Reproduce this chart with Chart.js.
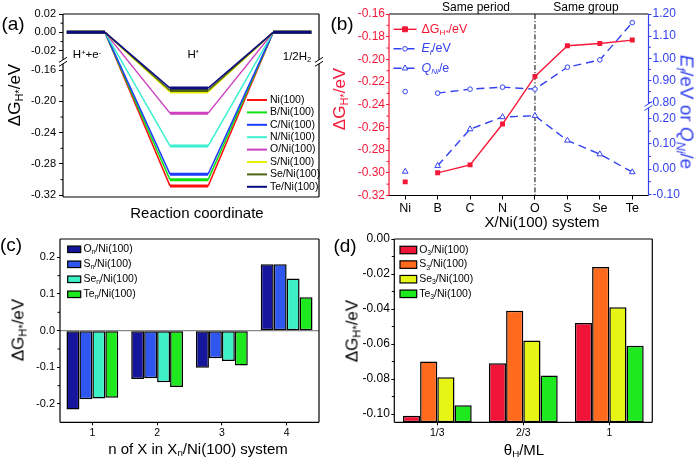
<!DOCTYPE html>
<html><head><meta charset="utf-8">
<script src="https://cdn.jsdelivr.net/npm/chart.js@4/dist/chart.umd.min.js"></script>
<style>
html,body{margin:0;padding:0;background:#fff;}
#fig{position:relative;width:697px;height:461px;overflow:hidden;font-family:'Liberation Sans',Arial,sans-serif;color:#000;}
canvas{position:absolute;}
.t{position:absolute;white-space:nowrap;line-height:1;transform:translate(-50%,-50%);z-index:5;}
.rl{transform:translate(-50%,-50%) rotate(-90deg);}
.rr{transform:translate(-50%,-50%) rotate(90deg);}
.t sub{font-size:65%;vertical-align:-0.3em;line-height:0;}
.t sup{font-size:65%;vertical-align:0.5em;line-height:0;}
</style></head>
<body><div id="fig">
<canvas id="ca" width="340" height="225" style="left:0;top:0"></canvas>
<canvas id="cb" width="357" height="225" style="left:340px;top:0"></canvas>
<canvas id="cc" width="340" height="236" style="left:0;top:225px"></canvas>
<canvas id="cd" width="357" height="236" style="left:340px;top:225px"></canvas>

<div class="t" style="left:13px;top:23px;font-size:19px">(a)</div>
<div class="t" style="left:342px;top:23px;font-size:19px">(b)</div>
<div class="t" style="left:11px;top:244px;font-size:19px">(c)</div>
<div class="t" style="left:345px;top:245px;font-size:19px">(d)</div>

<div class="t rl" style="left:14px;top:95px;font-size:17px">ΔG<sub>H*</sub>/eV</div>
<div class="t" style="left:197px;top:212px;font-size:15px">Reaction coordinate</div>
<div class="t" style="left:87px;top:55px;font-size:11.5px">H<sup>+</sup>+e<sup>-</sup></div>
<div class="t" style="left:193px;top:55px;font-size:11.5px">H<sup>*</sup></div>
<div class="t" style="left:297px;top:57px;font-size:11.5px">1/2H<sub>2</sub></div>

<div class="t rl" style="left:339px;top:99px;font-size:17px;color:#f41838">ΔG<sub>H*</sub>/eV</div>
<div class="t rr" style="left:687px;top:112px;font-size:19px;color:#3342ee"><i>E</i><sub><i>f</i></sub>/eV or <i>Q</i><sub><i>Ni</i></sub>/e</div>
<div class="t" style="left:542px;top:221px;font-size:15px">X/Ni(100) system</div>
<div class="t" style="left:476px;top:7px;font-size:12px">Same period</div>
<div class="t" style="left:586px;top:7px;font-size:12px">Same group</div>

<div class="t rl" style="left:18px;top:330px;font-size:17px">ΔG<sub>H*</sub>/eV</div>
<div class="t" style="left:198px;top:448px;font-size:15px">n of X in X<sub>n</sub>/Ni(100) system</div>
<div class="t rl" style="left:352px;top:331px;font-size:17px">ΔG<sub>H*</sub>/eV</div>
<div class="t" style="left:524px;top:449px;font-size:15px">θ<sub>H</sub>/ML</div>
</div>
<script>
// ================= DATA =================
// (a) free-energy diagram
const aSystems = ['Ni(100)','B/Ni(100)','C/Ni(100)','N/Ni(100)','O/Ni(100)','S/Ni(100)','Se/Ni(100)','Te/Ni(100)'];
const aDeltaGH = [-0.308,-0.300,-0.293,-0.257,-0.215,-0.188,-0.186,-0.183];
const aStateCoord = [0.1,1.1,2.8,3.8,5.5,6.5];   // reaction coordinate: start/end of H+ + e-, H*, 1/2H2
const aTickVals = [0.02,0,-0.02,-0.16,-0.20,-0.24,-0.28,-0.32];
const aTickLabels = ['0.02','0.00','-0.02','-0.16','-0.20','-0.24','-0.28','-0.32'];
const aMinorVals = [0.01,-0.01,-0.18,-0.22,-0.26,-0.30];

// (b) X/Ni(100) systems
const bElements = ['Ni','B','C','N','O','S','Se','Te'];
const bDeltaGH = [-0.308,-0.300,-0.293,-0.257,-0.215,-0.188,-0.186,-0.183];
const bEf = [0.850,0.843,0.861,0.870,0.861,0.960,0.993,1.161];
const bQNi = [-0.010,0.013,0.158,0.206,0.211,0.113,0.059,-0.012];
const bLeftTickVals = [-0.16,-0.18,-0.20,-0.22,-0.24,-0.26,-0.28,-0.30,-0.32];
const bLeftTickLabels = ['-0.16','-0.18','-0.20','-0.22','-0.24','-0.26','-0.28','-0.30','-0.32'];
const bRightTickVals = [1.20,1.10,1.00,0.90,0.80,0.20,0.10,0.00,-0.10];
const bRightTickLabels = ['1.20','1.10','1.00','0.90','0.80','0.20','0.10','0.00','-0.10'];
const bRightMinor = [1.15,1.05,0.95,0.85,0.15,0.05,-0.05];
const bLeftMinor = [-0.17,-0.19,-0.21,-0.23,-0.25,-0.27,-0.29,-0.31];

// (c) Xn/Ni(100)
const cN = ['1','2','3','4'];
const cO = [-0.215,-0.132,-0.101,0.181];
const cS = [-0.187,-0.130,-0.075,0.181];
const cSe = [-0.185,-0.141,-0.083,0.142];
const cTe = [-0.183,-0.154,-0.095,0.091];
const cTickVals = [0.2,0.1,0,-0.1,-0.2];
const cTickLabels = ['0.2','0.1','0.0','-0.1','-0.2'];
const cMinor = [0.15,0.05,-0.05,-0.15];

// (d) X3/Ni(100) vs H coverage
const dTheta = ['1/3','2/3','1'];
const dO = [-0.101,-0.071,-0.048];
const dS = [-0.070,-0.041,-0.016];
const dSe = [-0.079,-0.058,-0.039];
const dTe = [-0.095,-0.078,-0.061];
const dTickVals = [0,-0.02,-0.04,-0.06,-0.08,-0.10];
const dTickLabels = ['0.00','-0.02','-0.04','-0.06','-0.08','-0.10'];
const dMinor = [-0.01,-0.03,-0.05,-0.07,-0.09];

// ================= STYLE =================
const FONT = "'Liberation Sans', Arial, sans-serif";
Chart.defaults.font.family = FONT;
Chart.defaults.color = '#000';
const RED = '#f41838', BLUE = '#3342ee';
const aColors = ['#ff1010','#10e010','#1c3cff','#3cf0d0','#cc40c0','#e8f000','#4f6410','#0c0c80'];
const cColors = ['#16169c','#2f56ef','#3ef0c6','#1ee81e'];
const dColors = ['#f01438','#ff6a1c','#e6f514','#1ee81e'];

// broken-axis mappings
function aMap(v){ return v > -0.1 ? -0.147 + (v + 0.03) * 1.174 : v; }
function bMapE(e){ return 0.6138 - (1.2 - e) * 0.8775; }
function bMapR(v){ return v >= 0.5 ? bMapE(v) : v; }

// ================= PLUGINS =================
function drawRich(ctx, markup, x, y, size, color){
  const toks = markup.split(/([_^ij]\{[^}]*\})/).filter(s => s.length);
  ctx.fillStyle = color; ctx.textBaseline = 'middle'; ctx.textAlign = 'left';
  for (const p of toks){
    let t = p, s = size, dy = 0, st = '';
    const m = p.match(/^([_^ij])\{([^}]*)\}$/);
    if (m){
      t = m[2];
      if (m[1] === '_'){ s = size*0.65; dy = size*0.3; }
      else if (m[1] === '^'){ s = size*0.65; dy = -size*0.35; }
      else if (m[1] === 'i'){ st = 'italic '; }
      else if (m[1] === 'j'){ st = 'italic '; s = size*0.65; dy = size*0.3; }
    }
    ctx.font = st + s + 'px ' + FONT;
    ctx.fillText(t, x, y + dy);
    x += ctx.measureText(t).width;
  }
}
const frame = {
  id:'frame',
  afterDraw(chart, args, o){
    const ctx = chart.ctx, {left,right,top,bottom} = chart.chartArea;
    ctx.save(); ctx.lineWidth = 1.2; ctx.setLineDash([]);
    const seg = (c,x1,y1,x2,y2) => { ctx.strokeStyle = c; ctx.beginPath(); ctx.moveTo(x1,y1); ctx.lineTo(x2,y2); ctx.stroke(); };
    seg(o.top||'#000', left, top, right, top);
    seg(o.bottom||'#000', left, bottom, right, bottom);
    seg(o.left||'#000', left, top, left, bottom);
    seg(o.right||'#000', right, top, right, bottom);
    (o.breaks||[]).forEach(b => {
      const y = chart.scales[b.scale].getPixelForValue(b.value);
      const x = b.side === 'right' ? right : left;
      ctx.fillStyle = '#fff'; ctx.fillRect(x-2, y-2, 4, 4);
      ctx.strokeStyle = b.color||'#000'; ctx.lineWidth = 1;
      [-2, 2].forEach(off => { ctx.beginPath(); ctx.moveTo(x-4, y+off+2.5); ctx.lineTo(x+4, y+off-2.5); ctx.stroke(); });
    });
    ctx.restore();
  }
};
const minorTicks = {
  id:'minorTicks',
  afterDraw(chart, args, o){
    const ctx = chart.ctx, ca = chart.chartArea;
    ctx.save(); ctx.lineWidth = 1;
    (o.sets||[]).forEach(s => {
      const sc = chart.scales[s.scale];
      const x = s.side === 'right' ? ca.right : ca.left, dir = s.side === 'right' ? 1 : -1;
      ctx.strokeStyle = s.color||'#000';
      s.values.forEach(v => { const y = sc.getPixelForValue(v); ctx.beginPath(); ctx.moveTo(x, y); ctx.lineTo(x + dir*2.5, y); ctx.stroke(); });
    });
    ctx.restore();
  }
};
const refLines = {
  id:'refLines',
  beforeDatasetsDraw(chart, args, o){
    const ctx = chart.ctx, ca = chart.chartArea;
    ctx.save();
    if (o.zeroY){ const y = chart.scales.y.getPixelForValue(0); ctx.strokeStyle = '#8a8a8a'; ctx.lineWidth = 1.4; ctx.beginPath(); ctx.moveTo(ca.left, y); ctx.lineTo(ca.right, y); ctx.stroke(); }
    if (o.vIndex !== undefined){ const x = chart.scales.x.getPixelForValue(o.vIndex); ctx.strokeStyle = '#000'; ctx.lineWidth = 1; ctx.setLineDash([5,2,1.2,2]); ctx.beginPath(); ctx.moveTo(x, ca.top); ctx.lineTo(x, ca.bottom); ctx.stroke(); }
    ctx.restore();
  }
};
const boxLegend = {
  id:'boxLegend',
  afterDraw(chart, args, o){
    if (!o || !o.items) return;
    const ctx = chart.ctx, ca = chart.chartArea;
    ctx.save();
    o.items.forEach((txt, i) => {
      const ds = chart.data.datasets[i];
      const x = ca.left + o.dx, y = ca.top + o.dy + i*o.rowH;
      if (o.kind === 'box'){
        ctx.fillStyle = ds.backgroundColor; ctx.fillRect(x, y - o.h/2, o.w, o.h);
        ctx.strokeStyle = '#000'; ctx.lineWidth = 1.2; ctx.strokeRect(x, y - o.h/2, o.w, o.h);
      } else {
        ctx.strokeStyle = ds.borderColor; ctx.lineWidth = o.lineW || 2;
        ctx.setLineDash(ds.borderDash || []);
        ctx.beginPath(); ctx.moveTo(x, y); ctx.lineTo(x + o.w, y); ctx.stroke(); ctx.setLineDash([]);
        if (o.markers){
          ctx.fillStyle = ds.pointBackgroundColor || ds.backgroundColor || ds.borderColor;
          ctx.strokeStyle = ds.borderColor; ctx.lineWidth = 1;
          Chart.helpers.drawPoint(ctx, {pointStyle: ds.pointStyle, radius: ds.pointRadius, borderWidth: 1, rotation: 0}, x + o.w/2, y);
        }
      }
      drawRich(ctx, txt, x + o.w + o.gap, y, o.size, o.colorFromData ? ds.borderColor : '#000');
    });
    ctx.restore();
  }
};
const PLUGS = [refLines, frame, minorTicks, boxLegend];
const base = {responsive:false, animation:false, events:[], maintainAspectRatio:false};

// ================= (a) =================
new Chart('ca', {
  type:'line',
  data:{ datasets: aSystems.map((name, i) => ({
    label: name,
    data: aStateCoord.map((x, k) => ({x, y: aMap([0, aDeltaGH[i], 0][Math.floor(k/2)])})),
    borderColor: aColors[i], backgroundColor: aColors[i], borderWidth: 1.5, pointRadius: 0, tension: 0,
    order: aSystems.length - i,
    segment:{ borderWidth: c => c.p0DataIndex % 2 === 0 ? 3 : 1.5 }
  }))},
  plugins: PLUGS,
  options:{ ...base,
    layout:{padding:{top:14, right:21, left:0, bottom:0}},
    plugins:{ legend:{display:false}, tooltip:{enabled:false},
      frame:{breaks:[{scale:'y', value:-0.1494, side:'left'},{scale:'y', value:-0.1494, side:'right'}]},
      minorTicks:{sets:[{scale:'y', side:'left', values:aMinorVals.map(aMap)}]},
      boxLegend:{kind:'line', items:aSystems, dx:184, dy:86, rowH:12.4, w:20, gap:3, size:10.5, lineW:2}
    },
    scales:{
      x:{type:'linear', min:0, max:6.7, ticks:{display:false}, grid:{display:false}, border:{display:false}, afterFit:s => { s.height = 28; }},
      y:{type:'linear', min:-0.3222, max:aMap(0.02),
        afterBuildTicks:s => { s.ticks = aTickVals.map(v => ({value:aMap(v)})); },
        ticks:{callback:(v, i) => aTickLabels[i], font:{size:11}, color:'#000', padding:3},
        grid:{drawOnChartArea:false, tickLength:4, color:'#000'}, border:{display:false},
        afterFit:s => { s.width = 63; }}
    }
  }
});

// ================= (b) =================
const hideFirst = c => c.p0DataIndex === 0 ? 'rgba(0,0,0,0)' : undefined;
new Chart('cb', {
  type:'line',
  data:{ labels:bElements, datasets:[
    {label:'ΔGH*/eV', data:bDeltaGH, yAxisID:'y', borderColor:RED, backgroundColor:RED, borderWidth:1.4,
     pointStyle:'rect', pointRadius:3.5, pointBorderWidth:0, segment:{borderColor:hideFirst}},
    {label:'Ef/eV', data:bEf.map(bMapE), yAxisID:'y2', borderColor:BLUE, backgroundColor:'#fff', pointBackgroundColor:'#fff',
     borderWidth:1.4, borderDash:[8,5], pointStyle:'circle', pointRadius:2.3, pointBorderWidth:1, segment:{borderColor:hideFirst}},
    {label:'QNi/e', data:bQNi, yAxisID:'y2', borderColor:BLUE, backgroundColor:'#fff', pointBackgroundColor:'#fff',
     borderWidth:1.4, borderDash:[8,5], pointStyle:'triangle', pointRadius:3.3, pointBorderWidth:1, segment:{borderColor:hideFirst}}
  ]},
  plugins: PLUGS,
  options:{ ...base,
    layout:{padding:{top:14, right:0, left:0, bottom:0}},
    plugins:{ legend:{display:false}, tooltip:{enabled:false},
      refLines:{vIndex: bElements.indexOf('O')},
      frame:{left:RED, right:BLUE, breaks:[{scale:'y2', value:0.2502, side:'right', color:BLUE}]},
      minorTicks:{sets:[{scale:'y', side:'left', values:bLeftMinor, color:RED},{scale:'y2', side:'right', values:bRightMinor.map(bMapR), color:BLUE}]},
      boxLegend:{kind:'line', markers:true, colorFromData:true, items:['ΔG_{H*}/eV','i{E}j{f}/eV','i{Q}j{Ni}/e'], dx:4.5, dy:15.3, rowH:19.5, w:23, gap:5, size:12.5, lineW:1.4}
    },
    scales:{
      x:{type:'category', offset:true, grid:{display:true, drawOnChartArea:false, offset:false, tickLength:4, color:'#000'}, border:{display:false},
        ticks:{font:{size:12.5}, color:'#000', padding:2}, afterFit:s => { s.height = 29.5; }},
      y:{position:'left', min:-0.32, max:-0.16,
        afterBuildTicks:s => { s.ticks = bLeftTickVals.map(v => ({value:v})); },
        ticks:{callback:(v, i) => bLeftTickLabels[i], color:RED, font:{size:12}, padding:1},
        grid:{drawOnChartArea:false, tickLength:3, color:RED}, border:{display:false}, afterFit:s => { s.width = 49; }},
      y2:{position:'right', min:-0.1047, max:bMapE(1.2),
        afterBuildTicks:s => { s.ticks = bRightTickVals.map(v => ({value:bMapR(v)})); },
        ticks:{callback:(v, i) => bRightTickLabels[i], color:BLUE, font:{size:12}, padding:1},
        grid:{drawOnChartArea:false, tickLength:3, color:BLUE}, border:{display:false}, afterFit:s => { s.width = 48.5; }}
    }
  }
});

// ================= (c) =================
const cSeries = [cO, cS, cSe, cTe];
const cNames = ['Oₙ/Ni(100)','Sₙ/Ni(100)','Seₙ/Ni(100)','Teₙ/Ni(100)'];
new Chart('cc', {
  type:'bar',
  data:{ labels:cN, datasets: cSeries.map((arr, i) => ({
    label:cNames[i], data:arr, backgroundColor:cColors[i], borderColor:'#000', borderWidth:1.5, borderSkipped:false
  }))},
  plugins: PLUGS,
  options:{ ...base,
    datasets:{bar:{categoryPercentage:0.8, barPercentage:1}},
    layout:{padding:{top:14, right:21, left:0, bottom:0}},
    plugins:{ legend:{display:false}, tooltip:{enabled:false},
      refLines:{zeroY:true}, frame:{},
      minorTicks:{sets:[{scale:'y', side:'left', values:cMinor}]},
      boxLegend:{kind:'box', items:['O_{n}/Ni(100)','S_{n}/Ni(100)','Se_{n}/Ni(100)','Te_{n}/Ni(100)'], dx:7.7, dy:10.3, rowH:15, w:13, h:6.5, gap:2.7, size:10.5}
    },
    scales:{
      x:{grid:{display:true, drawOnChartArea:false, offset:false, tickLength:3, color:'#000'}, border:{display:false},
        ticks:{font:{size:10.5}, color:'#000', padding:2}, afterFit:s => { s.height = 38.7; }},
      y:{min:-0.25, max:0.25,
        afterBuildTicks:s => { s.ticks = cTickVals.map(v => ({value:v})); },
        ticks:{callback:(v, i) => cTickLabels[i], font:{size:11}, color:'#000', padding:2},
        grid:{drawOnChartArea:false, tickLength:3, color:'#000'}, border:{display:false}, afterFit:s => { s.width = 60; }}
    }
  }
});

// ================= (d) =================
const dSeries = [dO, dS, dSe, dTe];
const dNames = ['O₃/Ni(100)','S₃/Ni(100)','Se₃/Ni(100)','Te₃/Ni(100)'];
const dMin = -0.1047;
new Chart('cd', {
  type:'bar',
  data:{ labels:dTheta, datasets: dSeries.map((arr, i) => ({
    label:dNames[i], data:arr, base:dMin, backgroundColor:dColors[i], borderColor:'#000', borderWidth:1.5, borderSkipped:false
  }))},
  plugins: PLUGS,
  options:{ ...base,
    datasets:{bar:{categoryPercentage:0.8, barPercentage:1}},
    layout:{padding:{top:14, right:44.7, left:0, bottom:0}},
    plugins:{ legend:{display:false}, tooltip:{enabled:false},
      frame:{},
      minorTicks:{sets:[{scale:'y', side:'left', values:dMinor}]},
      boxLegend:{kind:'box', items:['O_{3}/Ni(100)','S_{3}/Ni(100)','Se_{3}/Ni(100)','Te_{3}/Ni(100)'], dx:5.7, dy:11, rowH:14.6, w:16.7, h:7.5, gap:2.5, size:10.5}
    },
    scales:{
      x:{grid:{display:true, drawOnChartArea:false, offset:false, tickLength:3, color:'#000'}, border:{display:false},
        ticks:{font:{size:10.5}, color:'#000', padding:2}, afterFit:s => { s.height = 38.7; }},
      y:{min:dMin, max:0,
        afterBuildTicks:s => { s.ticks = dTickVals.map(v => ({value:v})); },
        ticks:{callback:(v, i) => dTickLabels[i], font:{size:12}, color:'#000', padding:1.5},
        grid:{drawOnChartArea:false, tickLength:3, color:'#000'}, border:{display:false}, afterFit:s => { s.width = 54.3; }}
    }
  }
});
</script>
</body></html>
